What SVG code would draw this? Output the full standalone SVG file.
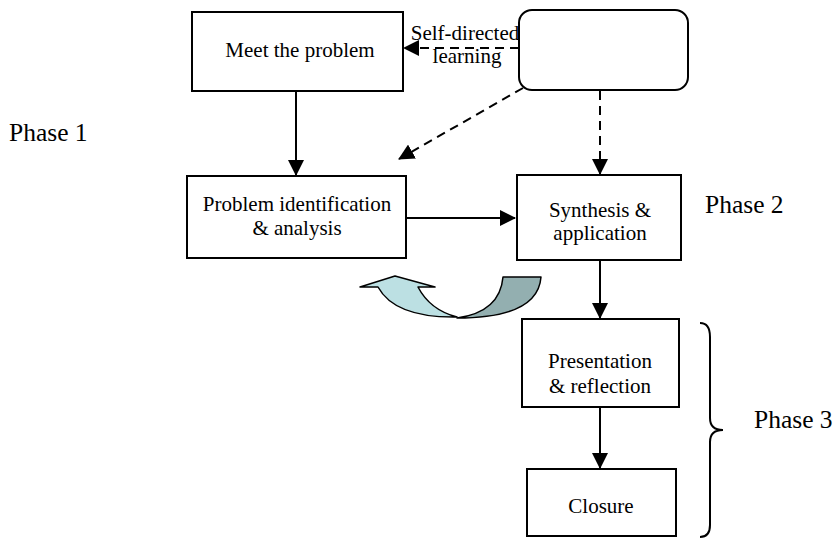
<svg xmlns="http://www.w3.org/2000/svg" width="835" height="538" viewBox="0 0 835 538">
<style>
.box{fill:#fff;stroke:#000;stroke-width:2}
.t{font-family:"Liberation Serif","Times New Roman",serif;font-size:21px;fill:#000;text-anchor:middle}
.ph{font-family:"Liberation Serif","Times New Roman",serif;font-size:25.5px;fill:#000}
.c{fill:none;stroke:#000;stroke-width:2}
.d{stroke-dasharray:9,6}
</style>
<defs>
<marker id="ah" markerUnits="userSpaceOnUse" markerWidth="16" markerHeight="16" viewBox="0 0 16 16" refX="15" refY="8" orient="auto">
<path d="M0,0 L16,8 L0,16 Z" fill="#000"/>
</marker>
</defs>
<rect width="835" height="538" fill="#fff"/>
<g id="connectors">
<line class="c" x1="296" y1="91" x2="296" y2="175" marker-end="url(#ah)"/>
<line class="c" x1="407" y1="218" x2="515" y2="218" marker-end="url(#ah)"/>
<line class="c" x1="600" y1="260" x2="600" y2="318" marker-end="url(#ah)"/>
<line class="c" x1="600" y1="407" x2="600" y2="468" marker-end="url(#ah)"/>
<line class="c d" x1="519" y1="48" x2="404" y2="48" marker-end="url(#ah)"/>
<line class="c d" x1="523" y1="88" x2="399" y2="159" marker-end="url(#ah)"/>
<line class="c d" x1="600" y1="91" x2="600" y2="174" marker-end="url(#ah)"/>
</g>
<g id="label-self-directed">
<text class="t" x="465" y="40">Self-directed</text>
<text class="t" x="467" y="63">learning</text>
</g>
<g id="node-meet">
<rect class="box" x="192" y="12" width="211" height="79"/>
<text class="t" x="300" y="57">Meet the problem</text>
</g>
<g id="node-resource">
<rect class="box" x="519" y="10" width="169" height="80" rx="13" ry="13"/>
</g>
<g id="node-problem">
<rect class="box" x="187" y="176" width="219" height="82"/>
<text class="t" x="297" y="211">Problem identification</text>
<text class="t" x="297" y="235">&amp; analysis</text>
</g>
<g id="node-synthesis">
<rect class="box" x="517" y="175" width="164" height="85"/>
<text class="t" x="600" y="217">Synthesis &amp;</text>
<text class="t" x="600" y="240">application</text>
</g>
<g id="node-presentation">
<rect class="box" x="522" y="319" width="157" height="88"/>
<text class="t" x="600" y="368">Presentation</text>
<text class="t" x="600" y="393">&amp; reflection</text>
</g>
<g id="node-closure">
<rect class="box" x="527" y="469" width="149" height="67"/>
<text class="t" x="601" y="513">Closure</text>
</g>
<g id="uturn-arrow" stroke="#000" stroke-width="1.5" stroke-linejoin="round">
<path d="M503,277 L541,277 Q538,318 457,318 Q500,312 503,277 Z" fill="#93AFB0"/>
<path d="M360,287 L395,276 L435,287 L418,287 Q430,310 457,317 Q395,318 378,287 Z" fill="#BCE0E3"/>
</g>
<g id="brace">
<path class="c" stroke-width="1.8" d="M700,323 Q710,323 710,337 L710,418 Q710,430 723,430 Q710,430 710,442 L710,525 Q710,537 700,537"/>
</g>
<g id="phases">
<text class="ph" x="9" y="141">Phase 1</text>
<text class="ph" x="705" y="213">Phase 2</text>
<text class="ph" x="754" y="428">Phase 3</text>
</g>
</svg>
